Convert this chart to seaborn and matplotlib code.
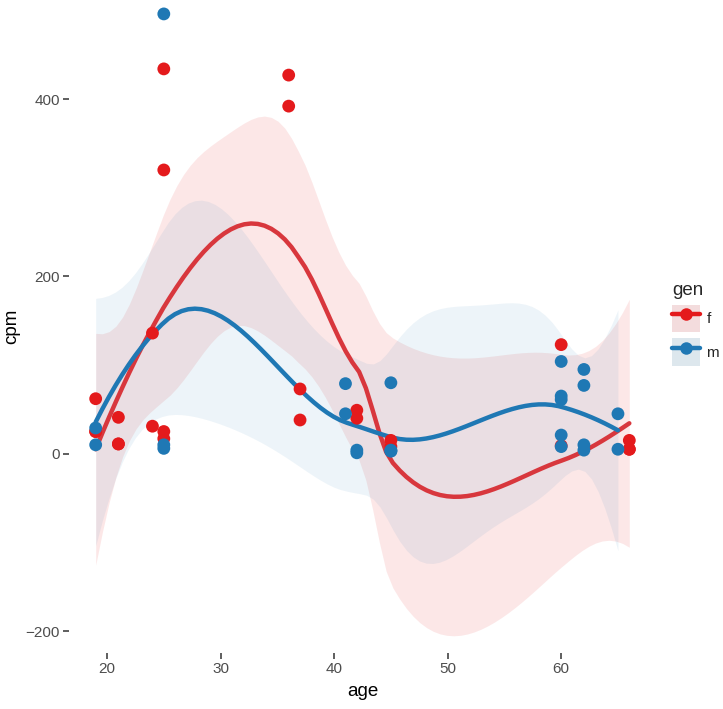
import numpy as np
import pandas as pd
import matplotlib
matplotlib.use("Agg")
import matplotlib.pyplot as plt
import seaborn as sns
from matplotlib.patches import Patch
from matplotlib.lines import Line2D
from matplotlib.legend_handler import HandlerTuple

# ---- data (a few points hidden under others are estimated) ----
age_f = [19, 19, 19, 21, 21, 21, 24, 24, 25, 25, 25, 25, 36, 36, 37, 37,
         42, 42, 45, 45, 60, 60, 66, 66, 66]
cpm_f = [62, 25, 25, 41, 11, 11, 136, 31, 434, 320, 25, 17, 427, 392, 73, 38,
         49, 40, 15, 8, 123, 9, 15, 5, 5]
age_m = [19, 19, 25, 25, 25, 41, 41, 42, 42, 45, 45, 45, 45,
         60, 60, 60, 60, 60, 62, 62, 62, 62, 65, 65]
cpm_m = [29, 10, 496, 10, 6, 79, 45, 4, 1, 80, 4, 3, 3,
         104, 65, 61, 21, 8, 95, 77, 10, 4, 45, 5]
genders = ["f", "m"]
x_ticks = [20, 30, 40, 50, 60]
y_ticks = [-200, 0, 200, 400]
y_tick_labels = ["\u2212200", "0", "200", "400"]

RED = "#E41A1C"
BLUE = "#1F78B4"
RED_LINE = "#D8373D"

df = pd.DataFrame({
    "age": age_f + age_m,
    "cpm": cpm_f + cpm_m,
    "gen": ["f"] * len(age_f) + ["m"] * len(age_m),
})


# ---- loess (degree 2, span 0.75) with kd-tree vertex interpolation, as R does ----
def local_rows(x, x0, q, degree=2):
    d = np.abs(x - x0)
    h = np.sort(d)[q - 1]
    u = np.clip(d / h, 0, 1)
    w = np.where(d < h, (1 - u ** 3) ** 3, 0.0)
    X = np.vstack([(x - x0) ** k for k in range(degree + 1)]).T
    XtW = X.T * w
    B = np.linalg.pinv(XtW @ X) @ XtW
    return B[0], B[1]


def kd_vertices(x, fc):
    xs = np.sort(x)
    n = len(xs)
    X = np.concatenate([[np.nan], xs])
    a0, b0 = xs[0], xs[-1]
    t = 0.005 * (b0 - a0)
    a0 -= t
    b0 += t
    verts = {a0, b0}
    stack = [(1, n, a0, b0)]
    while stack:
        l, u, a, b = stack.pop()
        if u - l + 1 <= fc:
            continue
        m = (l + u) // 2
        off = 0
        while not ((m + off) >= u or (m + off) < l):
            if X[m + off] == X[m + off + 1]:
                off = -off
                if off >= 0:
                    off += 1
            else:
                m = m + off
                break
        s = X[m]
        if s == a or s == b:
            continue
        verts.add(s)
        stack.append((l, m, a, s))
        stack.append((m + 1, u, s, b))
    return np.array(sorted(verts))


def loess_operator(x, xe, span=0.75, cell=0.2):
    x = np.asarray(x, float)
    n = len(x)
    q = int(np.floor(n * span))
    fc = int(np.floor(n * span * cell))
    V = kd_vertices(x, fc)
    rows = [local_rows(x, v, q) for v in V]
    L = np.zeros((len(xe), n))
    for i, xv in enumerate(xe):
        j = np.searchsorted(V, xv, side="right") - 1
        j = min(max(j, 0), len(V) - 2)
        h = V[j + 1] - V[j]
        s = (xv - V[j]) / h
        p0 = (1 - s) ** 2 * (1 + 2 * s)
        p1 = s ** 2 * (3 - 2 * s)
        q0 = s * (1 - s) ** 2
        q1 = -s ** 2 * (1 - s)
        L[i] = (p0 * rows[j][0] + p1 * rows[j + 1][0]
                + h * (q0 * rows[j][1] + q1 * rows[j + 1][1]))
    return L


def tq(dfree):
    z = 1.959964
    return (z + (z ** 3 + z) / 4 / dfree
            + (5 * z ** 5 + 16 * z ** 3 + 3 * z) / 96 / dfree ** 2
            + (3 * z ** 7 + 19 * z ** 5 + 17 * z ** 3 - 15 * z) / 384 / dfree ** 3)


def smooth(x, y, npts=80):
    x = np.asarray(x, float)
    y = np.asarray(y, float)
    xe = np.linspace(x.min(), x.max(), npts)
    Ln = loess_operator(x, x)
    IL = np.eye(len(x)) - Ln
    M = IL.T @ IL
    d1 = np.trace(M)
    d2 = np.trace(M @ M)
    sigma = np.sqrt(np.sum((y - Ln @ y) ** 2) / d1)
    Le = loess_operator(x, xe)
    fit = Le @ y
    se = sigma * np.sqrt(np.sum(Le ** 2, axis=1))
    t = tq(d1 ** 2 / d2)
    return xe, fit, fit - t * se, fit + t * se


sns.set_style("white")
plt.rcParams["font.family"] = ["Liberation Sans", "DejaVu Sans"]

fig = plt.figure(figsize=(7.23, 7.09), dpi=100)
ax = fig.add_axes([69 / 723, 56 / 709, (656 - 69) / 723, 653 / 709])

palette = {"f": RED, "m": BLUE}
line_cols = {"f": RED_LINE, "m": BLUE}
fill_alpha = {"f": 0.10, "m": 0.08}

smooth_rows = []
for g in genders:
    sub = df[df.gen == g]
    xs, fit, lo, hi = smooth(sub.age.values, sub.cpm.values)
    ax.fill_between(xs, lo, hi, color=palette[g], alpha=fill_alpha[g], lw=0, zorder=1)
    smooth_rows.append(pd.DataFrame({"age": xs, "cpm": fit, "gen": g}))
sm = pd.concat(smooth_rows)

sns.lineplot(data=sm, x="age", y="cpm", hue="gen", palette=line_cols, lw=3.2,
             ax=ax, legend=False, zorder=2, estimator=None)
sns.scatterplot(data=df, x="age", y="cpm", hue="gen", palette=palette, s=85,
                linewidth=0, ax=ax, legend=False, zorder=3)

ax.set_xlim(16.65, 68.35)
ax.set_ylim(-224.8, 511.7)
ax.set_xticks(x_ticks)
ax.set_yticks(y_ticks)
ax.set_yticklabels(y_tick_labels)
for s in ax.spines.values():
    s.set_visible(False)
ax.tick_params(axis="both", colors="#333333", length=4, width=1.1, labelsize=11,
               labelcolor="#4D4D4D", pad=2.5, direction="out", bottom=True, left=True)
ax.set_xlabel("age", fontsize=13.5, color="black", labelpad=5)
ax.set_ylabel("cpm", fontsize=13.5, color="black", labelpad=4)

handles = []
for g in genders:
    bg = Patch(facecolor="#F5F5F5", edgecolor="none")
    patch = Patch(facecolor=palette[g], alpha=0.11, edgecolor="none")
    ln = Line2D([], [], color=palette[g], lw=3.2, marker="o", markersize=9,
                markeredgewidth=0)
    handles.append((bg, patch, ln))
leg = fig.legend(handles=handles, labels=genders, title="gen",
                 handler_map={tuple: HandlerTuple(ndivide=1, pad=0)},
                 loc="upper left", bbox_to_anchor=(666 / 723, 1 - 276 / 709),
                 frameon=False, fontsize=11, title_fontsize=13.5,
                 handlelength=1.85, handleheight=2.4, handletextpad=0.4,
                 labelspacing=0.38, borderaxespad=0)
leg._legend_box.align = "left"

fig.savefig("out.png", dpi=100)
